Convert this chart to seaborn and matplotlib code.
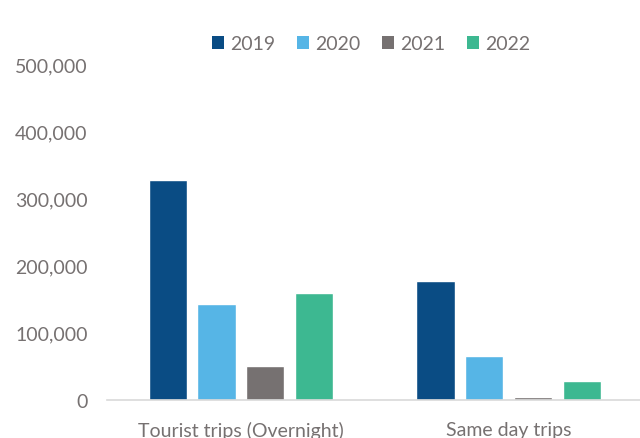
import matplotlib
matplotlib.use("Agg")
import matplotlib.pyplot as plt
import matplotlib.ticker as mticker
from matplotlib.patches import Patch
import seaborn as sns
import pandas as pd

categories = ["Tourist trips (Overnight)", "Same day trips"]
years = ["2019", "2020", "2021", "2022"]
overnight = [327000, 143000, 50500, 159000]
same_day = [177000, 65500, 4500, 28000]
colors = ["#0a4c84", "#56b5e6", "#767171", "#3db891"]

rows = []
for yr, v in zip(years, overnight):
    rows.append({"Trip type": categories[0], "Year": yr, "Trips": v})
for yr, v in zip(years, same_day):
    rows.append({"Trip type": categories[1], "Year": yr, "Trips": v})
df = pd.DataFrame(rows)

sns.set_theme(style="white")
plt.rcParams["font.family"] = ["Lato", "DejaVu Sans"]
text_color = "#767171"

fig = plt.figure(figsize=(6.4, 4.39), dpi=100)
ax = fig.add_axes([107 / 640, 38 / 439, 533 / 640, 336 / 439])

sns.barplot(data=df, x="Trip type", y="Trips", hue="Year", order=categories,
            hue_order=years, palette=colors, width=0.73, gap=0.22,
            saturation=1, legend=False, ax=ax)

ax.set_xlim(-0.5, 1.49)
ax.set_ylim(0, 500000)
ax.yaxis.set_major_locator(mticker.MultipleLocator(100000))
ax.yaxis.set_major_formatter(mticker.FuncFormatter(lambda v, p: f"{int(v):,}"))
ax.set_xlabel("")
ax.set_ylabel("")
for s in ["top", "right", "left"]:
    ax.spines[s].set_visible(False)
ax.spines["bottom"].set_color("#d9d9d9")
ax.spines["bottom"].set_linewidth(1.2)
ax.tick_params(axis="y", length=0, pad=14, labelsize=14, labelcolor=text_color)
ax.tick_params(axis="x", length=0, pad=15, labelsize=14, labelcolor=text_color)
ax.grid(False)

handles = [Patch(facecolor=c, edgecolor="none") for c in colors]
fig.legend(handles, years, loc="center", bbox_to_anchor=(371 / 640, 1 - 45 / 439),
           ncol=4, frameon=False, fontsize=14, labelcolor=text_color,
           handlelength=0.65, handleheight=0.65, handletextpad=0.3, columnspacing=1.1)

fig.savefig("out.png", dpi=100)
